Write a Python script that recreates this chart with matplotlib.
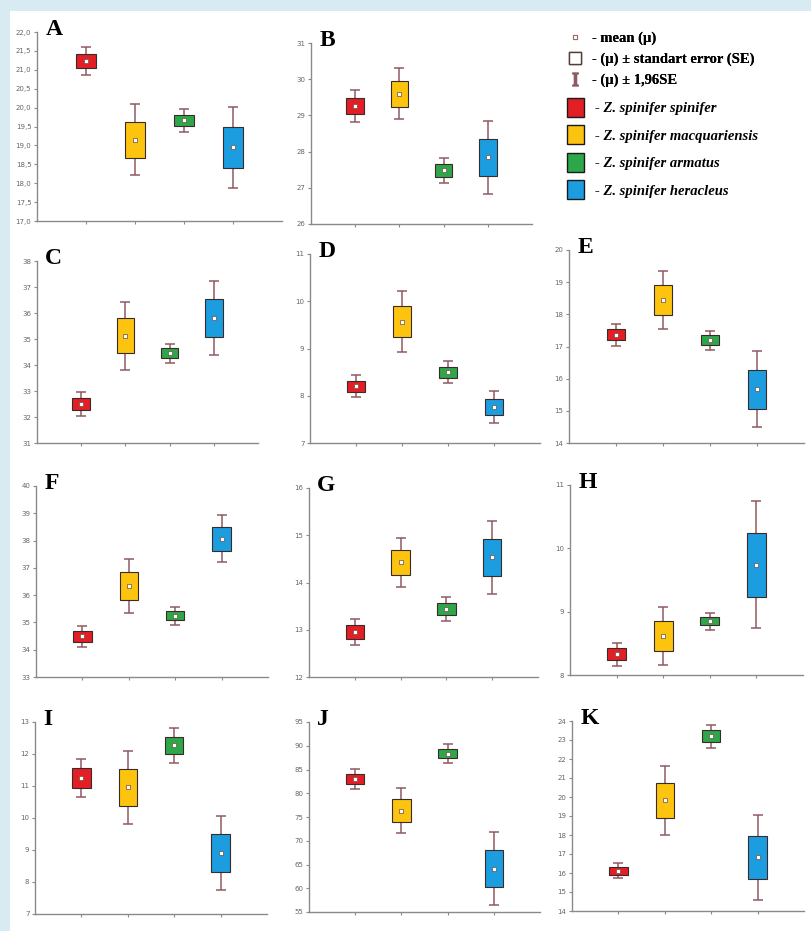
import matplotlib
matplotlib.use("Agg")
import matplotlib.pyplot as plt
from matplotlib.lines import Line2D
from matplotlib.patches import Patch, Rectangle
from matplotlib.ticker import MultipleLocator, FuncFormatter

species = ["Z. spinifer spinifer", "Z. spinifer macquariensis",
           "Z. spinifer armatus", "Z. spinifer heracleus"]
colors = ["#e31e24", "#fdc40f", "#2ea64a", "#1c9de0"]
letters = ["A", "B", "C", "D", "E", "F", "G", "H", "I", "J", "K"]

# mean and standard error for each species, one pair of lists per panel
mean_A = [21.24, 19.15, 19.66, 18.95]
se_A = [0.19, 0.48, 0.15, 0.55]
mean_B = [29.26, 29.60, 27.48, 27.84]
se_B = [0.22, 0.36, 0.175, 0.51]
mean_C = [32.51, 35.12, 34.45, 35.81]
se_C = [0.24, 0.67, 0.19, 0.72]
mean_D = [8.20, 9.57, 8.50, 7.76]
se_D = [0.12, 0.33, 0.115, 0.17]
mean_E = [17.36, 18.45, 17.20, 15.67]
se_E = [0.17, 0.46, 0.15, 0.60]
mean_F = [34.49, 36.33, 35.25, 38.06]
se_F = [0.20, 0.51, 0.17, 0.44]
mean_G = [12.95, 14.43, 13.44, 14.53]
se_G = [0.14, 0.265, 0.13, 0.39]
mean_H = [8.33, 8.62, 8.85, 9.74]
se_H = [0.093, 0.235, 0.068, 0.51]
mean_I = [11.25, 10.96, 12.27, 8.91]
se_I = [0.30, 0.585, 0.275, 0.585]
mean_J = [83.0, 76.33, 88.36, 64.12]
se_J = [1.08, 2.45, 1.0, 3.9]
mean_K = [16.12, 19.82, 23.20, 16.82]
se_K = [0.20, 0.92, 0.31, 1.13]

means = [mean_A, mean_B, mean_C, mean_D, mean_E, mean_F,
         mean_G, mean_H, mean_I, mean_J, mean_K]
ses = [se_A, se_B, se_C, se_D, se_E, se_F, se_G, se_H, se_I, se_J, se_K]

y_ranges = [(17, 22), (26, 31), (31, 38), (7, 11), (14, 20), (33, 40),
            (12, 16), (8, 11), (7, 13), (55, 95), (14, 24)]
y_steps = [0.5, 1, 1, 1, 1, 1, 1, 1, 1, 5, 1]

# axes boxes in pixels: left, right, top, bottom
boxes = [(37, 282, 32, 221), (311, 532, 43, 224),
         (37, 258, 261, 443), (310, 540, 254, 443), (569, 804, 250, 443),
         (36, 268, 486, 677), (309, 538, 488, 677), (570, 803, 485, 675),
         (35, 267, 722, 914), (309, 540, 722, 912), (572, 804, 721, 911)]

W, H = 811, 931
fig = plt.figure(figsize=(W / 100, H / 100), dpi=100, facecolor="#d9ebf2")
fig.patches.append(Rectangle((10 / W, 0), 1, 1 - 11 / H, transform=fig.transFigure,
                             facecolor="white", edgecolor="none", zorder=-10))

whisker_color = "#8f5a60"
axis_color = "#8a8a8a"


def comma(v, pos):
    return ("%.1f" % v).replace(".", ",")


def draw_panel(idx):
    x0, x1, top, bottom = boxes[idx]
    ax = fig.add_axes([x0 / W, 1 - bottom / H, (x1 - x0) / W, (bottom - top) / H])
    ax.patch.set_alpha(0)
    xs = [1, 2, 3, 4]
    m = means[idx]
    s = ses[idx]
    ci = [1.96 * v for v in s]
    ax.errorbar(xs, m, yerr=ci, fmt="none", ecolor=whisker_color,
                elinewidth=1.1, capsize=3.5, capthick=1.1, zorder=1)
    ax.bar(xs, [2 * v for v in s], bottom=[a - b for a, b in zip(m, s)],
           width=0.4, color=colors, edgecolor="#3a2a2a", linewidth=0.8, zorder=2)
    ax.plot(xs, m, ls="none", marker="s", markersize=2.4, markerfacecolor="white",
            markeredgecolor="#6b4b40", markeredgewidth=0.5, zorder=3)
    ax.set_xlim(0, 5)
    ax.set_ylim(*y_ranges[idx])
    ax.set_xticks(xs)
    ax.set_xticklabels([])
    ax.yaxis.set_major_locator(MultipleLocator(y_steps[idx]))
    if y_steps[idx] < 1:
        ax.yaxis.set_major_formatter(FuncFormatter(comma))
    for side in ("top", "right"):
        ax.spines[side].set_visible(False)
    for side in ("left", "bottom"):
        ax.spines[side].set_color(axis_color)
        ax.spines[side].set_linewidth(1.0)
    ax.tick_params(length=2, width=0.8, color=axis_color, labelsize=5,
                   labelcolor="#666666", pad=2)
    ax.annotate(letters[idx], (0, 1), xycoords="axes fraction",
                xytext=(6, -2), textcoords="offset points", va="baseline",
                ha="left", fontsize=17, fontweight="bold",
                family="Liberation Serif", annotation_clip=False)


for i in range(len(letters)):
    draw_panel(i)

plt.rcParams["mathtext.fontset"] = "stix"

sym_handles = [
    Line2D([], [], ls="none", marker="s", markersize=3, markerfacecolor="white",
           markeredgecolor="#a06a60", markeredgewidth=0.8),
    Line2D([], [], ls="none", marker="s", markersize=8, markerfacecolor="white",
           markeredgecolor="#5a3a34", markeredgewidth=1.0),
    Line2D([], [], ls="none", marker=r"$\mathrm{I}$", markersize=9,
           color=whisker_color),
]
sym_labels = ["- mean (\u00b5)", "- (\u00b5) \u00b1 standart error (SE)",
              "- (\u00b5) \u00b1 1,96SE"]
leg1 = fig.legend(sym_handles, sym_labels, loc="upper left",
                  bbox_to_anchor=(567 / W, 1 - 32 / H), frameon=False,
                  handlelength=1.1, handletextpad=0.6, labelspacing=0.5,
                  borderpad=0, borderaxespad=0,
                  prop={"family": "Liberation Serif", "weight": "bold", "size": 10.5})

sp_handles = [Patch(facecolor=c, edgecolor="#1a1a1a", linewidth=1.0) for c in colors]
sp_labels = ["- " + s for s in species]
leg2 = fig.legend(sp_handles, sp_labels, loc="upper left",
                  bbox_to_anchor=(567 / W, 1 - 98 / H), frameon=False,
                  handlelength=1.15, handleheight=1.6, handletextpad=0.75,
                  labelspacing=0.6, borderpad=0, borderaxespad=0,
                  prop={"family": "Liberation Serif", "weight": "bold",
                        "style": "italic", "size": 10.5})
fig.add_artist(leg1)

fig.savefig("out.png", dpi=100, facecolor=fig.get_facecolor())
